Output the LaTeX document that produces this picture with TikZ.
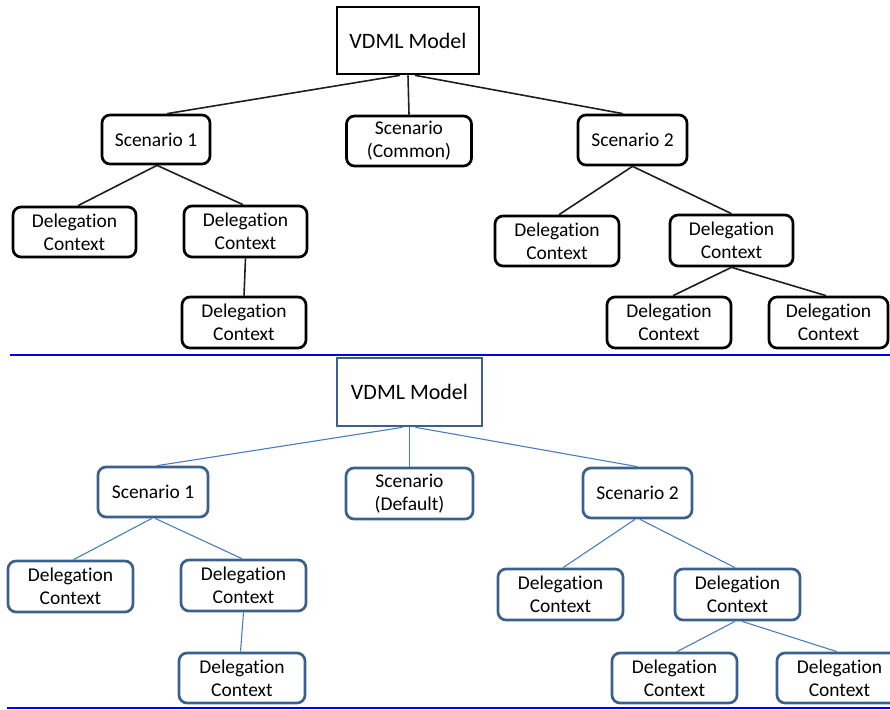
\documentclass[tikz,border=0pt]{standalone}
\usepackage{fontspec}
\setmainfont[Ligatures=NoCommon]{Carlito}
\definecolor{boxblue}{RGB}{60,96,142}
\definecolor{lineblue}{RGB}{74,126,187}
\definecolor{sepblue}{RGB}{0,0,240}
\definecolor{darkline}{RGB}{30,30,30}
\tikzset{
  base/.style={draw, inner sep=0pt, align=center, font=\fontsize{19.5}{23}\selectfont},
  blk/.style={base, draw=black, line width=2.7pt, rounded corners=8pt},
  blu/.style={base, draw=boxblue, line width=2.7pt, rounded corners=8pt},
  topbox/.style={base, line width=2.7pt, font=\fontsize{22}{26}\selectfont},
  blkline/.style={draw=darkline, line width=1.6pt},
  bluline/.style={draw=lineblue, line width=1.1pt},
  sepline/.style={draw=sepblue, line width=2pt},
  sz/.style 2 args={minimum width=#1pt, minimum height=#2pt}
}
\begin{document}
\begin{tikzpicture}[x=1pt,y=-1pt]
\useasboundingbox (0,0) rectangle (890,709);
% ---------- top panel ----------
\node[topbox, draw=black, sz={142}{67}] (tv) at (408,40.5) {VDML Model};
\node[blk, sz={108}{49}] (ts1) at (156,139.5) {Scenario 1};
\node[blk, sz={125}{50}] (tsc) at (409,141) {Scenario\\(Common)};
\node[blk, sz={109}{50}] (ts2) at (632.5,140) {Scenario 2};
\node[blk, sz={123}{50}] (td1) at (74.5,232) {Delegation\\Context};
\node[blk, sz={123}{51}] (td2) at (245.5,231.5) {Delegation\\Context};
\node[blk, sz={124}{51}] (td3) at (244,322.5) {Delegation\\Context};
\node[blk, sz={124}{50}] (td4) at (557,241) {Delegation\\Context};
\node[blk, sz={123}{51}] (td5) at (731.5,240.5) {Delegation\\Context};
\node[blk, sz={124}{51}] (td6) at (669,322.5) {Delegation\\Context};
\node[blk, sz={119}{51}] (td7) at (828.5,322.5) {Delegation\\Context};
\draw[blkline] ([xshift=-8pt]tv.south) -- ([xshift=11pt]ts1.north);
\draw[blkline] (tv.south) -- (tsc.north);
\draw[blkline] ([xshift=7pt]tv.south) -- ([xshift=-9.5pt]ts2.north);
\draw[blkline] ([xshift=1pt]ts1.south) -- ([xshift=3.5pt]td1.north);
\draw[blkline] ([xshift=1pt]ts1.south) -- ([xshift=-2.5pt]td2.north);
\draw[blkline] (td2.south) -- (td3.north);
\draw[blkline] (ts2.south) -- ([xshift=2pt]td4.north);
\draw[blkline] (ts2.south) -- (td5.north);
\draw[blkline] (td5.south) -- ([xshift=4pt]td6.north);
\draw[blkline] (td5.south) -- ([xshift=-2.5pt]td7.north);
% separator
\coordinate (s1a) at (10,354.5);
\coordinate (s1b) at (890,354.5);
\draw[sepline] (s1a) -- (s1b);
% ---------- bottom panel ----------
\node[topbox, draw=boxblue, sz={145}{68}] (bv) at (409.5,392) {VDML Model};
\node[blu, sz={110}{50}] (bs1) at (153,492) {Scenario 1};
\node[blu, sz={127}{51}] (bsd) at (409.5,493.5) {Scenario\\(Default)};
\node[blu, sz={109}{50}] (bs2) at (637.5,493) {Scenario 2};
\node[blu, sz={125}{51}] (bd1) at (70.5,586.5) {Delegation\\Context};
\node[blu, sz={125}{51}] (bd2) at (243.5,585.5) {Delegation\\Context};
\node[blu, sz={126}{50}] (bd3) at (242,678) {Delegation\\Context};
\node[blu, sz={125}{51}] (bd4) at (560.5,594.5) {Delegation\\Context};
\node[blu, sz={125}{51}] (bd5) at (737.5,594.5) {Delegation\\Context};
\node[blu, sz={125}{50}] (bd6) at (674.5,678) {Delegation\\Context};
\node[blu, sz={125}{50}] (bd7) at (839.5,678) {Delegation\\Context};
\draw[bluline] ([xshift=-7pt]bv.south) -- ([xshift=4pt]bs1.north);
\draw[bluline] (bv.south) -- (bsd.north);
\draw[bluline] ([xshift=6pt]bv.south) -- (bs2.north);
\draw[bluline] ([xshift=-1pt]bs1.south) -- ([xshift=3pt]bd1.north);
\draw[bluline] ([xshift=2pt]bs1.south) -- ([xshift=-1.5pt]bd2.north);
\draw[bluline] (bd2.south) -- ([xshift=-1.5pt]bd3.north);
\draw[bluline] ([xshift=-2.5pt]bs2.south) -- ([xshift=2.5pt]bd4.north);
\draw[bluline] ([xshift=2.5pt]bs2.south) -- ([xshift=-2.5pt]bd5.north);
\draw[bluline] ([xshift=-2.5pt]bd5.south) -- ([xshift=2.5pt]bd6.north);
\draw[bluline] ([xshift=4.5pt]bd5.south) -- ([xshift=-2.5pt]bd7.north);
% bottom separator
\coordinate (s2a) at (7,708);
\coordinate (s2b) at (890,708);
\draw[sepline] (s2a) -- (s2b);
\end{tikzpicture}
\end{document}
